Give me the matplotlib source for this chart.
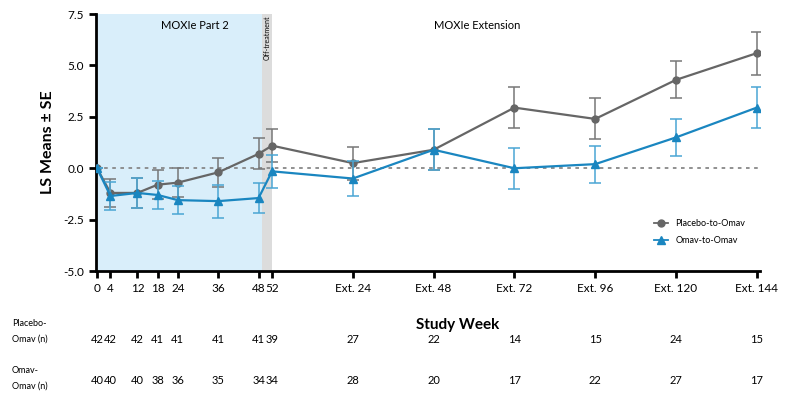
import numpy as np
import matplotlib
matplotlib.use("Agg")
import matplotlib.pyplot as plt
import matplotlib.transforms as mtransforms
from matplotlib.lines import Line2D

plt.rcParams['font.family'] = ['Lato', 'DejaVu Sans']
plt.rcParams['axes.unicode_minus'] = False

# study weeks (Ext. N plotted as 52 + N)
weeks = [0, 4, 12, 18, 24, 36, 48, 52, 76, 100, 124, 148, 172, 196]
week_labels = ['0', '4', '12', '18', '24', '36', '48', '52',
               'Ext. 24', 'Ext. 48', 'Ext. 72', 'Ext. 96', 'Ext. 120', 'Ext. 144']

placebo_mean = [0.0, -1.2, -1.2, -0.8, -0.7, -0.2, 0.7, 1.1, 0.25, 0.9, 2.95, 2.4, 4.3, 5.6]
placebo_se = [0.0, 0.7, 0.75, 0.7, 0.7, 0.7, 0.75, 0.8, 0.8, 1.0, 1.0, 1.0, 0.9, 1.05]
omav_mean = [0.0, -1.35, -1.2, -1.3, -1.55, -1.6, -1.45, -0.15, -0.5, 0.9, 0.0, 0.2, 1.5, 2.95]
omav_se = [0.0, 0.7, 0.75, 0.7, 0.7, 0.8, 0.75, 0.8, 0.85, 1.0, 1.0, 0.9, 0.9, 1.0]

n_placebo = [42, 42, 42, 41, 41, 41, 41, 39, 27, 22, 14, 15, 24, 15]
n_omav = [40, 40, 40, 38, 36, 35, 34, 34, 28, 20, 17, 22, 27, 17]

gray = '#666666'
blue = '#1a86c0'

fig = plt.figure(figsize=(7.85, 4.03), dpi=100)
ax = fig.add_axes([0.1223, 0.3275, 0.846, 0.6375])

ax.axvspan(0, 49, color='#d9eefa', lw=0, zorder=0)
ax.axvspan(49, 52, color='#dcdcdc', lw=0, zorder=0)
ax.axhline(0, color='#888888', ls=(0, (2, 2.5)), lw=1.3, zorder=1)

ax.errorbar(weeks, placebo_mean, yerr=placebo_se, color=gray, ecolor='#777777',
            marker='o', ms=5, lw=1.6, elinewidth=1.1, capsize=4, capthick=1.1,
            zorder=3)
ax.errorbar(weeks, omav_mean, yerr=omav_se, color=blue, ecolor='#4aa6d4',
            marker='^', ms=6, lw=1.6, elinewidth=1.1, capsize=4, capthick=1.1,
            zorder=4)

ax.set_xlim(-0.3, 197)
ax.set_ylim(-5.0, 7.5)
ax.set_yticks([-5.0, -2.5, 0.0, 2.5, 5.0, 7.5])
ax.set_yticklabels(['%.1f' % v for v in [-5.0, -2.5, 0.0, 2.5, 5.0, 7.5]])
ax.set_xticks(weeks)
ax.set_xticklabels(week_labels)
ax.tick_params(axis='both', labelsize=8.5, width=2, length=5, colors='black')
for s in ['top', 'right']:
    ax.spines[s].set_visible(False)
for s in ['left', 'bottom']:
    ax.spines[s].set_linewidth(2)

ax.set_ylabel('LS Means ± SE', fontsize=11.5, fontweight='bold', labelpad=6)

ax.text(29, 7.2, 'MOXIe Part 2', fontsize=8, ha='center', va='top')
ax.text(113, 7.2, 'MOXIe Extension', fontsize=8, ha='center', va='top')
ax.text(50.5, 7.45, 'Off-treatment', fontsize=5, rotation=90, ha='center', va='top')

handles = [Line2D([], [], color=gray, marker='o', ms=5, lw=1.3),
           Line2D([], [], color=blue, marker='^', ms=6, lw=1.3)]
ax.legend(handles, ['Placebo-to-Omav', 'Omav-to-Omav'], loc='lower right',
          bbox_to_anchor=(0.99, 0.07), frameon=False,
          fontsize=6.5, handlelength=1.6, labelspacing=0.9)

# N table under the axis
trans = mtransforms.blended_transform_factory(ax.transData, ax.transAxes)
ax.text(0.545, -0.21, 'Study Week', transform=ax.transAxes, fontsize=11,
        fontweight='bold', ha='center', va='center')
for w, a, b in zip(weeks, n_placebo, n_omav):
    ax.text(w, -0.268, str(a), transform=trans, fontsize=8, ha='center', va='center')
    ax.text(w, -0.428, str(b), transform=trans, fontsize=8, ha='center', va='center')

fig.text(0.015, 1 - 331 / 403, 'Placebo-\nOmav (n)', fontsize=6.5, ha='left',
         va='center', linespacing=1.9)
fig.text(0.015, 1 - 378 / 403, 'Omav-\nOmav (n)', fontsize=6.5, ha='left',
         va='center', linespacing=1.9)

fig.savefig('out.png', dpi=100)
